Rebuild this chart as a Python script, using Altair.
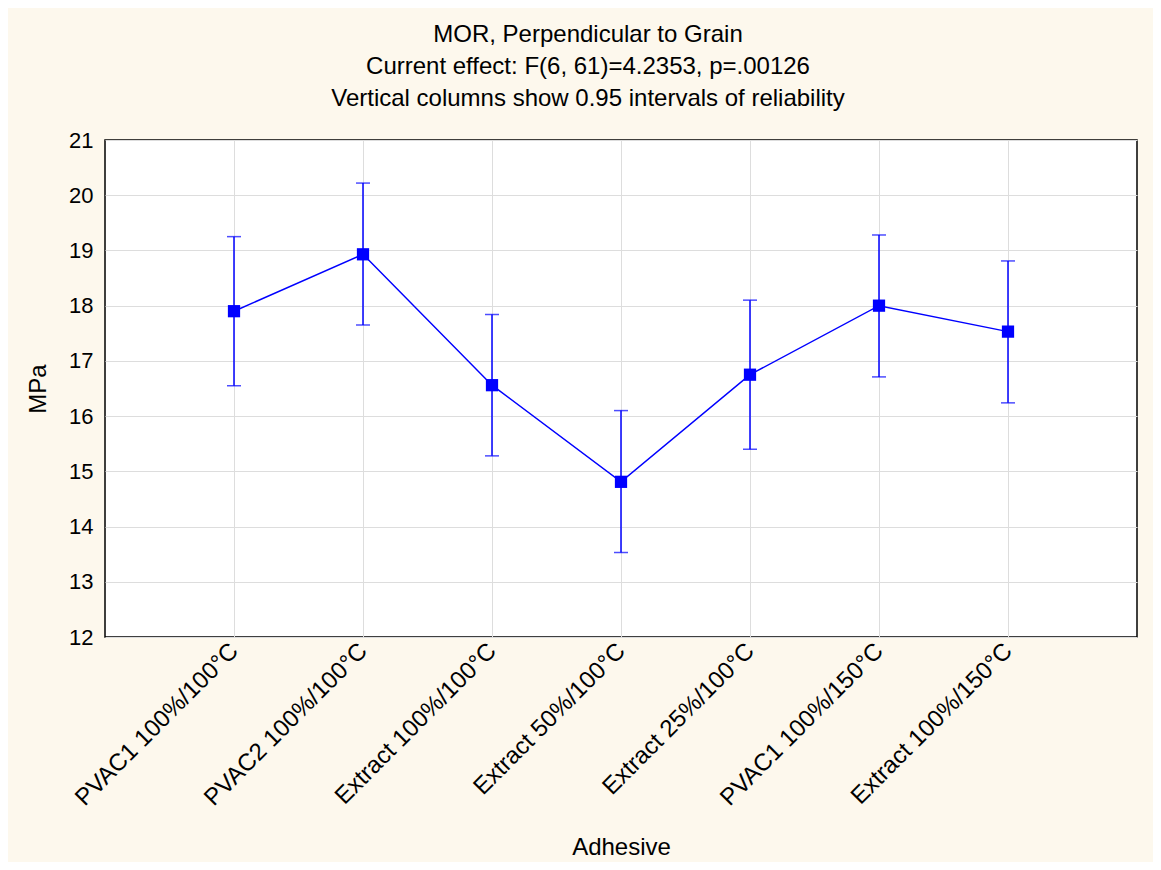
import altair as alt
import pandas as pd

categories = ["PVAC1 100%/100°C", "PVAC2 100%/100°C", "Extract 100%/100°C",
              "Extract 50%/100°C", "Extract 25%/100°C", "PVAC1 100%/150°C",
              "Extract 100%/150°C"]
means = [17.90, 18.93, 16.56, 14.81, 16.75, 18.00, 17.53]
upper = [19.25, 20.22, 17.84, 16.10, 18.10, 19.28, 18.81]
lower = [16.55, 17.65, 15.28, 13.53, 15.40, 16.71, 16.24]
title_lines = ["MOR, Perpendicular to Grain",
               "Current effect: F(6, 61)=4.2353, p=.00126",
               "Vertical columns show 0.95 intervals of reliability"]

df = pd.DataFrame({"Adhesive": categories, "mean": means, "hi": upper, "lo": lower})

FONT = "Liberation Sans"
BLUE = "#0000ff"

x = alt.X("Adhesive:N", sort=categories,
          scale=alt.Scale(type="point", padding=1),
          axis=alt.Axis(title="Adhesive", labelAngle=-45, labelAlign="right",
                        labelBaseline="middle", labelPadding=10, ticks=False,
                        domain=False, grid=True, gridColor="#dddddd",
                        labelFontSize=24, titleFontSize=24, titleFontWeight="normal",
                        labelFont=FONT, titleFont=FONT, labelColor="black",
                        titleColor="black", titlePadding=25, labelLimit=400))
y_scale = alt.Scale(domain=[12, 21], nice=False, zero=False)
y_axis = alt.Axis(title="MPa", values=list(range(12, 22)), format="d", ticks=False,
                  domain=False, grid=True, gridColor="#dddddd", labelFontSize=22,
                  titleFontSize=24, titleFontWeight="normal", labelFont=FONT,
                  titleFont=FONT, labelColor="black", titleColor="black",
                  labelPadding=12, titlePadding=18)

base = alt.Chart(df)
rules = base.mark_rule(color=BLUE, strokeWidth=1.5).encode(
    x=x, y=alt.Y("lo:Q", scale=y_scale, axis=y_axis), y2="hi:Q")
caps_hi = base.mark_tick(color=BLUE, size=14, thickness=1.5, orient="horizontal").encode(
    x=alt.X("Adhesive:N", sort=categories), y=alt.Y("hi:Q"))
caps_lo = base.mark_tick(color=BLUE, size=14, thickness=1.5, orient="horizontal").encode(
    x=alt.X("Adhesive:N", sort=categories), y=alt.Y("lo:Q"))
line = base.mark_line(color=BLUE, strokeWidth=1.5).encode(
    x=alt.X("Adhesive:N", sort=categories), y=alt.Y("mean:Q"))
pts = base.mark_square(color=BLUE, size=150, opacity=1).encode(
    x=alt.X("Adhesive:N", sort=categories), y=alt.Y("mean:Q"))

chart = alt.layer(rules, caps_hi, caps_lo, line, pts).properties(
    width=1032, height=497,
    autosize=alt.AutoSizeParams(type="none"),
    padding={"left": 97, "top": 132, "right": 16, "bottom": 225},
    background="#fdf8ed",
    title=alt.TitleParams(text=title_lines, fontSize=24, font=FONT,
                          fontWeight="normal", color="black", lineHeight=32,
                          anchor="middle", offset=18, dx=-33),
).configure_view(stroke="black", strokeWidth=1.5, fill="white")

chart.save("out.html", embed_options={"renderer": "svg", "actions": False})
